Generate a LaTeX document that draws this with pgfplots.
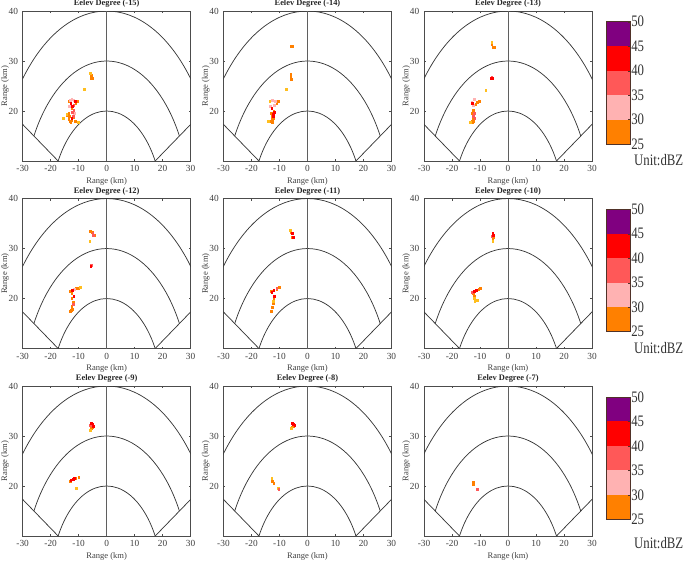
\documentclass[border=0pt]{standalone}
\usepackage{fontspec}
\setmainfont{Liberation Serif}
\usepackage{pgfplots}
\pgfplotsset{compat=1.18}
\definecolor{c25}{RGB}{255,128,0}
\definecolor{c30}{RGB}{255,178,178}
\definecolor{c35}{RGB}{255,88,88}
\definecolor{c40}{RGB}{255,0,0}
\definecolor{c45}{RGB}{128,0,128}
\definecolor{cy}{RGB}{255,190,30}
\definecolor{gridc}{RGB}{55,55,55}
\definecolor{cbframe}{RGB}{80,50,40}
\tikzset{gl/.style={gridc, line width=0.55pt},
 ttl/.style={font=\fontsize{6.3}{7}\selectfont\bfseries, anchor=center, inner sep=0pt, text=black!85},
 unit/.style={anchor=west, font=\fontsize{12}{12}\selectfont, xscale=0.8, inner sep=0pt, text=black!80}}

\pgfplotsset{
 radar/.style={scale only axis, width=126pt, height=112.5pt,
  xmin=-30,xmax=30,ymin=10,ymax=40,
  xtick={-30,-20,-10,0,10,20,30}, ytick={20,30,40},
  tick align=inside, major tick length=1.5pt,
  tick style={black!70, line width=0.3pt},
  axis line style={black!70, line width=0.5pt},
  /pgf/number format/assume math mode=true,
  tick label style={font=\fontsize{7}{8}\selectfont, text=black!75},
  xlabel={Range (km)}, ylabel={Range (km)},
  label style={font=\fontsize{6.4}{7}\selectfont, text=black!75},
  xlabel style={at={(axis description cs:0.5,-0.135)}, anchor=center, yshift=0pt},
  ylabel style={at={(axis description cs:-0.105,0.5)}, anchor=center},
  anchor=north west},
 echo/.style={only marks, mark=square*, mark size=0.6pt, mark options={draw=none}},
 cbar/.style={scale only axis, width=18pt, height=91.7pt,
  xmin=0,xmax=1,ymin=25,ymax=50, xtick=\empty,
  ytick={25,30,35,40,45,50}, ytick pos=right, yticklabel pos=right,
  tick align=inside, major tick length=2pt,
  axis line style={cbframe, line width=0.6pt}, tick style={cbframe},
  /pgf/number format/assume math mode=true,
  yticklabel style={font=\fontsize{12}{12}\selectfont, xscale=0.8, anchor=west, inner sep=0.4pt, text=black!80},
  anchor=north west, axis on top},
}
\newcommand\radargrid{%
  \begin{scope}
    \clip (axis cs:0,0) -- (axis cs:-69.28,40) -- (axis cs:-69.28,46) -- (axis cs:69.28,46) -- (axis cs:69.28,40) -- cycle;
    \draw[gl] (axis cs:0,0) ellipse [x radius=20, y radius=20];
    \draw[gl] (axis cs:0,0) ellipse [x radius=30, y radius=30];
    \draw[gl] (axis cs:0,0) ellipse [x radius=40, y radius=40];
  \end{scope}
  \addplot[gl] coordinates {(-17.32,10) (-34.64,20)};
  \addplot[gl] coordinates {(17.32,10) (34.64,20)};
  \addplot[gl, line width=0.7pt, gridc!80] coordinates {(0,10) (0,40)};
}
\newcommand\cbarfill{%
  \addplot[fill=c25, draw=none] coordinates {(0,25) (1,25) (1,30) (0,30)} -- cycle;
  \addplot[fill=c30, draw=none] coordinates {(0,30) (1,30) (1,35) (0,35)} -- cycle;
  \addplot[fill=c35, draw=none] coordinates {(0,35) (1,35) (1,40) (0,40)} -- cycle;
  \addplot[fill=c40, draw=none] coordinates {(0,40) (1,40) (1,45) (0,45)} -- cycle;
  \addplot[fill=c45, draw=none] coordinates {(0,45) (1,45) (1,50) (0,50)} -- cycle;
}

\begin{document}
\begin{tikzpicture}
\useasboundingbox (0,0) rectangle (513.75pt,-421.5pt);

% ---------- Row 1 ----------
\begin{axis}[radar, at={(17pt,-8.25pt)}]
\radargrid
\addplot[echo, c25] coordinates {(-5.5,27.2) (-5.5,26.9) (-5.5,26.6) (-5.0,26.5) (-13,18) (-12.5,18.2) (-13.5,18.3) (-12,18.7) (-14,19.2) (-13.5,19.6) (-12.5,20.5) (-10.5,22) (-11,21.5) (-13.5,22) (-11.3,17.9) (-12.8,17.8) (-13.3,19.0)};
\addplot[echo, cy] coordinates {(-8,24.3) (-15.5,18.5) (-10.2,17.8) (-5.8,27.5) (-14.3,19.4)};
\addplot[echo, c30] coordinates {(-12.5,22.3) (-11.8,22.2) (-11.5,19.5) (-13.3,21) (-13,22.2)};
\addplot[echo, c35] coordinates {(-12,19) (-11.8,20.2) (-12.3,19.8) (-11.7,21.2)};
\addplot[echo, c40] coordinates {(-12.8,21.6) (-11.2,22.0) (-12.4,18.6) (-12.2,20.9)};
\end{axis}
\node[ttl] at (80pt,-3pt) {Eelev Degree (-15)};

\begin{axis}[radar, at={(167.6pt,-8.25pt)}]
\radargrid
\addplot[echo, c25] coordinates {(-6,33) (-5.5,33) (-6,27.3) (-6,26.9) (-6,26.7) (-5.8,26.3) (-13,18) (-12.5,18.3) (-12,18.5) (-13,19.5) (-12,20) (-10.5,22) (-11,21.5) (-12.8,19) (-12.6,17.8)};
\addplot[echo, cy] coordinates {(-7.5,24.3) (-13.5,22) (-14,18)};
\addplot[echo, c30] coordinates {(-12.5,22.2) (-11.5,22) (-13.2,21) (-11.8,21.2)};
\addplot[echo, c40] coordinates {(-12.3,19.3) (-11.8,19.8) (-12.8,20.5) (-12.2,18.9)};
\end{axis}
\node[ttl] at (230.6pt,-3pt) {Eelev Degree (-14)};

\begin{axis}[radar, at={(318pt,-8.25pt)}]
\radargrid
\addplot[echo, c25] coordinates {(-5.8,33.3) (-5.5,32.8) (-4.8,32.7) (-13,18) (-12.2,18) (-12.5,18.6) (-13,19.6) (-11,21.8) (-10.2,22) (-11.5,21.3) (-12.5,20.2) (-12.6,17.7)};
\addplot[echo, cy] coordinates {(-8,24.2) (-5.8,33.7) (-13.5,17.8)};
\addplot[echo, c30] coordinates {(-12,22.3) (-13,21.8) (-12.5,21.2)};
\addplot[echo, c35] coordinates {(-5.8,26.8) (-12,19.5) (-12.5,19) (-11.9,18.5)};
\addplot[echo, c40] coordinates {(-12.8,21.5) (-6,26.6) (-5.6,26.6)};
\end{axis}
\node[ttl] at (381pt,-3pt) {Eelev Degree (-13)};

\begin{axis}[cbar, at={(455pt,-16.3pt)}]
\cbarfill
\end{axis}
\node[unit] at (475.5pt,-120pt) {Unit:dBZ};

% ---------- Row 2 ----------
\begin{axis}[radar, at={(17pt,-148.9pt)}]
\radargrid
\addplot[echo, c25] coordinates {(-5.8,33.5) (-5.2,33.3) (-4.5,32.7) (-13,17.5) (-12.2,17.8) (-12.5,18.5) (-12,19.3) (-12.5,20) (-10,22) (-10.8,22) (-12.5,21) (-13,21.5) (-12.6,17.6)};
\addplot[echo, cy] coordinates {(-6,31.5) (-9.5,22.2)};
\addplot[echo, c30] coordinates {(-11.5,21.8)};
\addplot[echo, c35] coordinates {(-5.5,26.7) (-5,33) (-12,18.8) (-4.8,32.6)};
\addplot[echo, c40] coordinates {(-12.3,21.7) (-11.8,20.5) (-5.7,26.5)};
\end{axis}
\node[ttl] at (80pt,-143.65pt) {Eelev Degree (-12)};

\begin{axis}[radar, at={(167.6pt,-148.9pt)}]
\radargrid
\addplot[echo, c25] coordinates {(-6,33.3) (-5.5,32.2) (-13,17.5) (-12.6,18.2) (-12.3,19) (-12,19.8) (-10,22.2) (-11,21.8) (-13,21.5)};
\addplot[echo, cy] coordinates {(-6.2,33.6) (-12.2,19.4)};
\addplot[echo, c35] coordinates {(-11,22)};
\addplot[echo, c40] coordinates {(-5.5,33) (-5,32.3) (-12,21.7) (-11.8,20.5) (-12.8,21.3)};
\end{axis}
\node[ttl] at (230.6pt,-143.65pt) {Eelev Degree (-11)};

\begin{axis}[radar, at={(318pt,-148.9pt)}]
\radargrid
\addplot[echo, c25] coordinates {(-5.5,31.9) (-5.2,32.2) (-10,22) (-10.5,21.8) (-12.5,21) (-12,20.5)};
\addplot[echo, cy] coordinates {(-5.5,31.5) (-11,19.7) (-12,20) (-11.8,19.5)};
\addplot[echo, c35] coordinates {(-5.8,32.5) (-12.8,21.3)};
\addplot[echo, c40] coordinates {(-5.5,33) (-5.2,32.6) (-12,21.5) (-11.3,21.6)};
\end{axis}
\node[ttl] at (381pt,-143.65pt) {Eelev Degree (-10)};

\begin{axis}[cbar, at={(455pt,-157pt)}]
\cbarfill
\end{axis}
\node[unit] at (475.5pt,-261pt) {Unit:dBZ};

% ---------- Row 3 ----------
\begin{axis}[radar, at={(17pt,-289.5pt)}]
\radargrid
\addplot[echo, c25] coordinates {(-5.6,31.5) (-5.2,31.8) (-10,21.8) (-11,21.6) (-13,21)};
\addplot[echo, cy] coordinates {(-5.8,31.2) (-10.8,19.5)};
\addplot[echo, c35] coordinates {(-5.8,32.2)};
\addplot[echo, c40] coordinates {(-5.5,32.5) (-5,32.3) (-4.8,32) (-12,21.3) (-11.5,21.5) (-12.8,21.1)};
\end{axis}
\node[ttl] at (80pt,-284.25pt) {Eelev Degree (-9)};

\begin{axis}[radar, at={(167.6pt,-289.5pt)}]
\radargrid
\addplot[echo, c25] coordinates {(-5.6,31.8) (-5,32) (-12.5,21) (-12,20.5)};
\addplot[echo, cy] coordinates {(-5.8,31.6) (-12.8,21.5) (-10.5,19.5)};
\addplot[echo, c35] coordinates {(-10.3,19.4)};
\addplot[echo, c40] coordinates {(-5.5,32.5) (-5,32.4) (-4.6,32.1)};
\end{axis}
\node[ttl] at (230.6pt,-284.25pt) {Eelev Degree (-8)};

\begin{axis}[radar, at={(318pt,-289.5pt)}]
\radargrid
\addplot[echo, c25] coordinates {(-12.5,20.8) (-12.4,20.4)};
\addplot[echo, c35] coordinates {(-11,19.4)};
\end{axis}
\node[ttl] at (381pt,-284.25pt) {Eelev Degree (-7)};

\begin{axis}[cbar, at={(455pt,-297.75pt)}]
\cbarfill
\end{axis}
\node[unit] at (475.5pt,-407.25pt) {Unit:dBZ};

\end{tikzpicture}
\end{document}
